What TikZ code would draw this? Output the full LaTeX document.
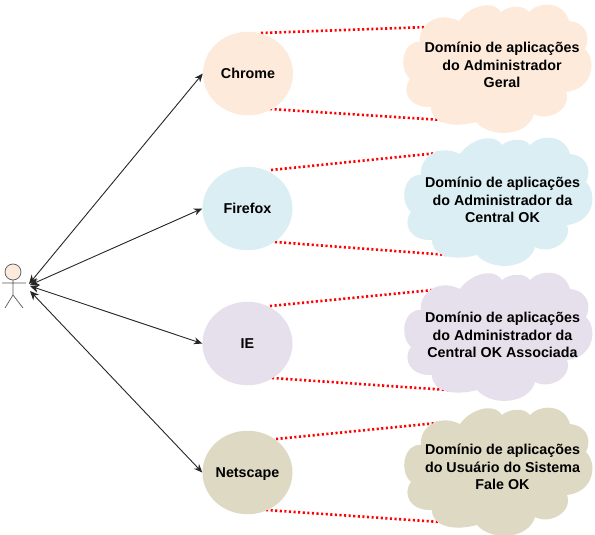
\documentclass[tikz,border=0pt]{standalone}
\usepackage{fontspec}
\setmainfont{Liberation Sans}
\usetikzlibrary{arrows.meta,shapes.geometric}
\definecolor{cpeach}{HTML}{FDEADA}
\definecolor{cblue}{HTML}{DBEEF4}
\definecolor{clilac}{HTML}{E6E0EC}
\definecolor{ctan}{HTML}{DDD9C3}
\tikzset{
  x=1pt,y=-1pt,
  circ/.style={ellipse,minimum width=90pt,minimum height=83.5pt,inner sep=0pt,text height=10pt,text depth=0pt,font=\fontsize{14.3pt}{15pt}\selectfont\bfseries},
  lbl/.style={align=center,inner sep=0pt,font=\fontsize{14.3pt}{17.3pt}\selectfont\bfseries},
  link/.style={draw=black!85,line width=0.9pt,{Stealth[length=9pt,width=8pt]}-{Stealth[length=8.5pt,width=7pt]}},
  redline/.style={draw=red,line width=2.6pt,dash pattern=on 2.1pt off 2.5pt},
  pics/cloudbg/.style={code={
    \fill[#1] (-78,-26)
      .. controls (-80,-42) and (-62,-58) .. (-39,-47)
      .. controls (-30,-60) and (-7,-70) .. (3,-56)
      .. controls (10,-62) and (25,-64) .. (31,-56)
      .. controls (40,-66) and (65,-68) .. (71,-47)
      .. controls (85,-46) and (94,-34) .. (87,-19)
      .. controls (99,-7) and (95,21) .. (68,24)
      .. controls (74,41) and (51,54) .. (36,46)
      .. controls (30,68) and (-7,71) .. (-22,54)
      .. controls (-44,60) and (-67,56) .. (-67,39)
      .. controls (-89,40) and (-97,23) .. (-88,11)
      .. controls (-101,-1) and (-94,-28) .. (-78,-26) -- cycle;
  }}
}
\begin{document}
\begin{tikzpicture}
\useasboundingbox (0,0) rectangle (595,535);
\fill[white] (0,0) rectangle (595,535);
% actor
\draw[black!65,line width=0.7pt,fill=cpeach] (13,272) circle [radius=8pt];
\draw[black!65,line width=0.7pt] (13,280) -- (13,295) (2,283) -- (26,283) (5,308) -- (13,295) -- (23,308);
\coordinate (ua) at (29,284);
\coordinate (ub) at (30,285);
\coordinate (uc) at (30,286);
\coordinate (ud) at (30,291);
% dotted end points
\coordinate (a1) at (261,33); \coordinate (a2) at (428,27);
\coordinate (b1) at (270,109); \coordinate (b2) at (442,120);
\coordinate (c1) at (271,170); \coordinate (c2) at (438,153);
\coordinate (d1) at (275,242); \coordinate (d2) at (448,255);
\coordinate (e1) at (270,306); \coordinate (e2) at (433,290);
\coordinate (f1) at (272,378); \coordinate (f2) at (448,390);
\coordinate (g1) at (276,439); \coordinate (g2) at (437,423);
\coordinate (h1) at (266,510); \coordinate (h2) at (440,522);
\draw[redline] (a1) -- (a2);
\draw[redline] (b1) -- (b2);
\draw[redline] (c1) -- (c2);
\draw[redline] (d1) -- (d2);
\draw[redline] (e1) -- (e2);
\draw[redline] (f1) -- (f2);
\draw[redline] (g1) -- (g2);
\draw[redline] (h1) -- (h2);
% clouds
\pic at (498,68) {cloudbg=cpeach};
\pic at (499,201) {cloudbg=cblue};
\pic at (499,336) {cloudbg=clilac};
\pic at (499,471) {cloudbg=ctan};
% circles
\node[circ,fill=cpeach] (chrome) at (248,73.5) {Chrome};
\node[circ,fill=cblue] (firefox) at (247.5,208.5) {Firefox};
\node[circ,fill=clilac] (ie) at (247.5,343.5) {IE};
\node[circ,fill=ctan] (netscape) at (247.5,472.5) {Netscape};
% labels
\node[lbl] (t1) at (502,65) {Domínio de aplicações\\do Administrador\\Geral};
\node[lbl] (t2) at (502.5,200) {Domínio de aplicações\\do Administrador da\\Central OK};
\node[lbl] (t3) at (502.5,335) {Domínio de aplicações\\do Administrador da\\Central OK Associada};
\node[lbl] (t4) at (502.5,467) {Domínio de aplicações\\do Usuário do Sistema\\Fale OK};
% arrows
\draw[link] (ua) -- (chrome.west);
\draw[link] (ub) -- (firefox.west);
\draw[link] (uc) -- (ie.west);
\draw[link] (ud) -- (netscape.west);
\end{tikzpicture}
\end{document}
